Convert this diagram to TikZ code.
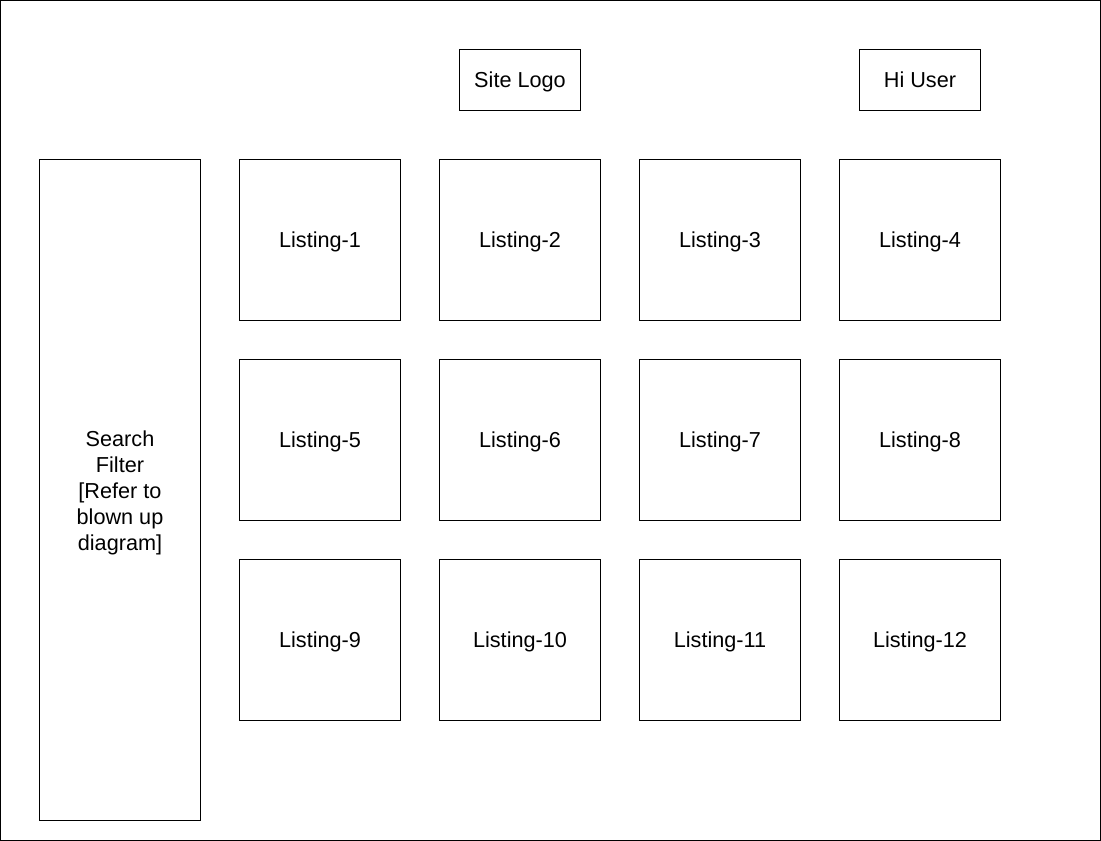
\documentclass[tikz,border=0pt]{standalone}
\usepackage{fontspec}
\setmainfont{Liberation Sans}
\usepackage{tikz}
\usetikzlibrary{positioning}

\begin{document}
\begin{tikzpicture}[x=0.025cm,y=-0.025cm,
  font=\fontsize{15.4}{18.5}\selectfont, line width=0.7pt,
  box/.style={draw,inner sep=0pt,minimum width=4cm,minimum height=4cm,text height=14pt,text depth=3pt},
  hdr/.style={draw,inner sep=0pt,minimum width=3cm,minimum height=1.5cm,text height=14pt,text depth=3pt}]
  \useasboundingbox (0,0) rectangle (1101,841);
  \node[draw,inner sep=0pt,minimum width=27.5cm,minimum height=21cm] (frame) at (550.5,420.5) {};
  \node[hdr] (logo) at (520,80) {Site Logo};
  \node[hdr] (user) at (920,80) {Hi User};
  \node[draw,inner sep=0pt,minimum width=4cm,minimum height=16.5cm,align=center] (filter) at (120,490) {};
  \node[align=center] (filtertext) at (120,492.5) {Search\\Filter\\{}[Refer to\\blown up\\diagram]};
  % listing grid, 4 per row
  \foreach \n/\cx/\cy in {1/320/240,2/520/240,3/720/240,4/920/240,
                          5/320/440,6/520/440,7/720/440,8/920/440,
                          9/320/640,10/520/640,11/720/640,12/920/640}
    \node[box] (list\n) at (\cx,\cy) {Listing-\n};
\end{tikzpicture}
\end{document}
